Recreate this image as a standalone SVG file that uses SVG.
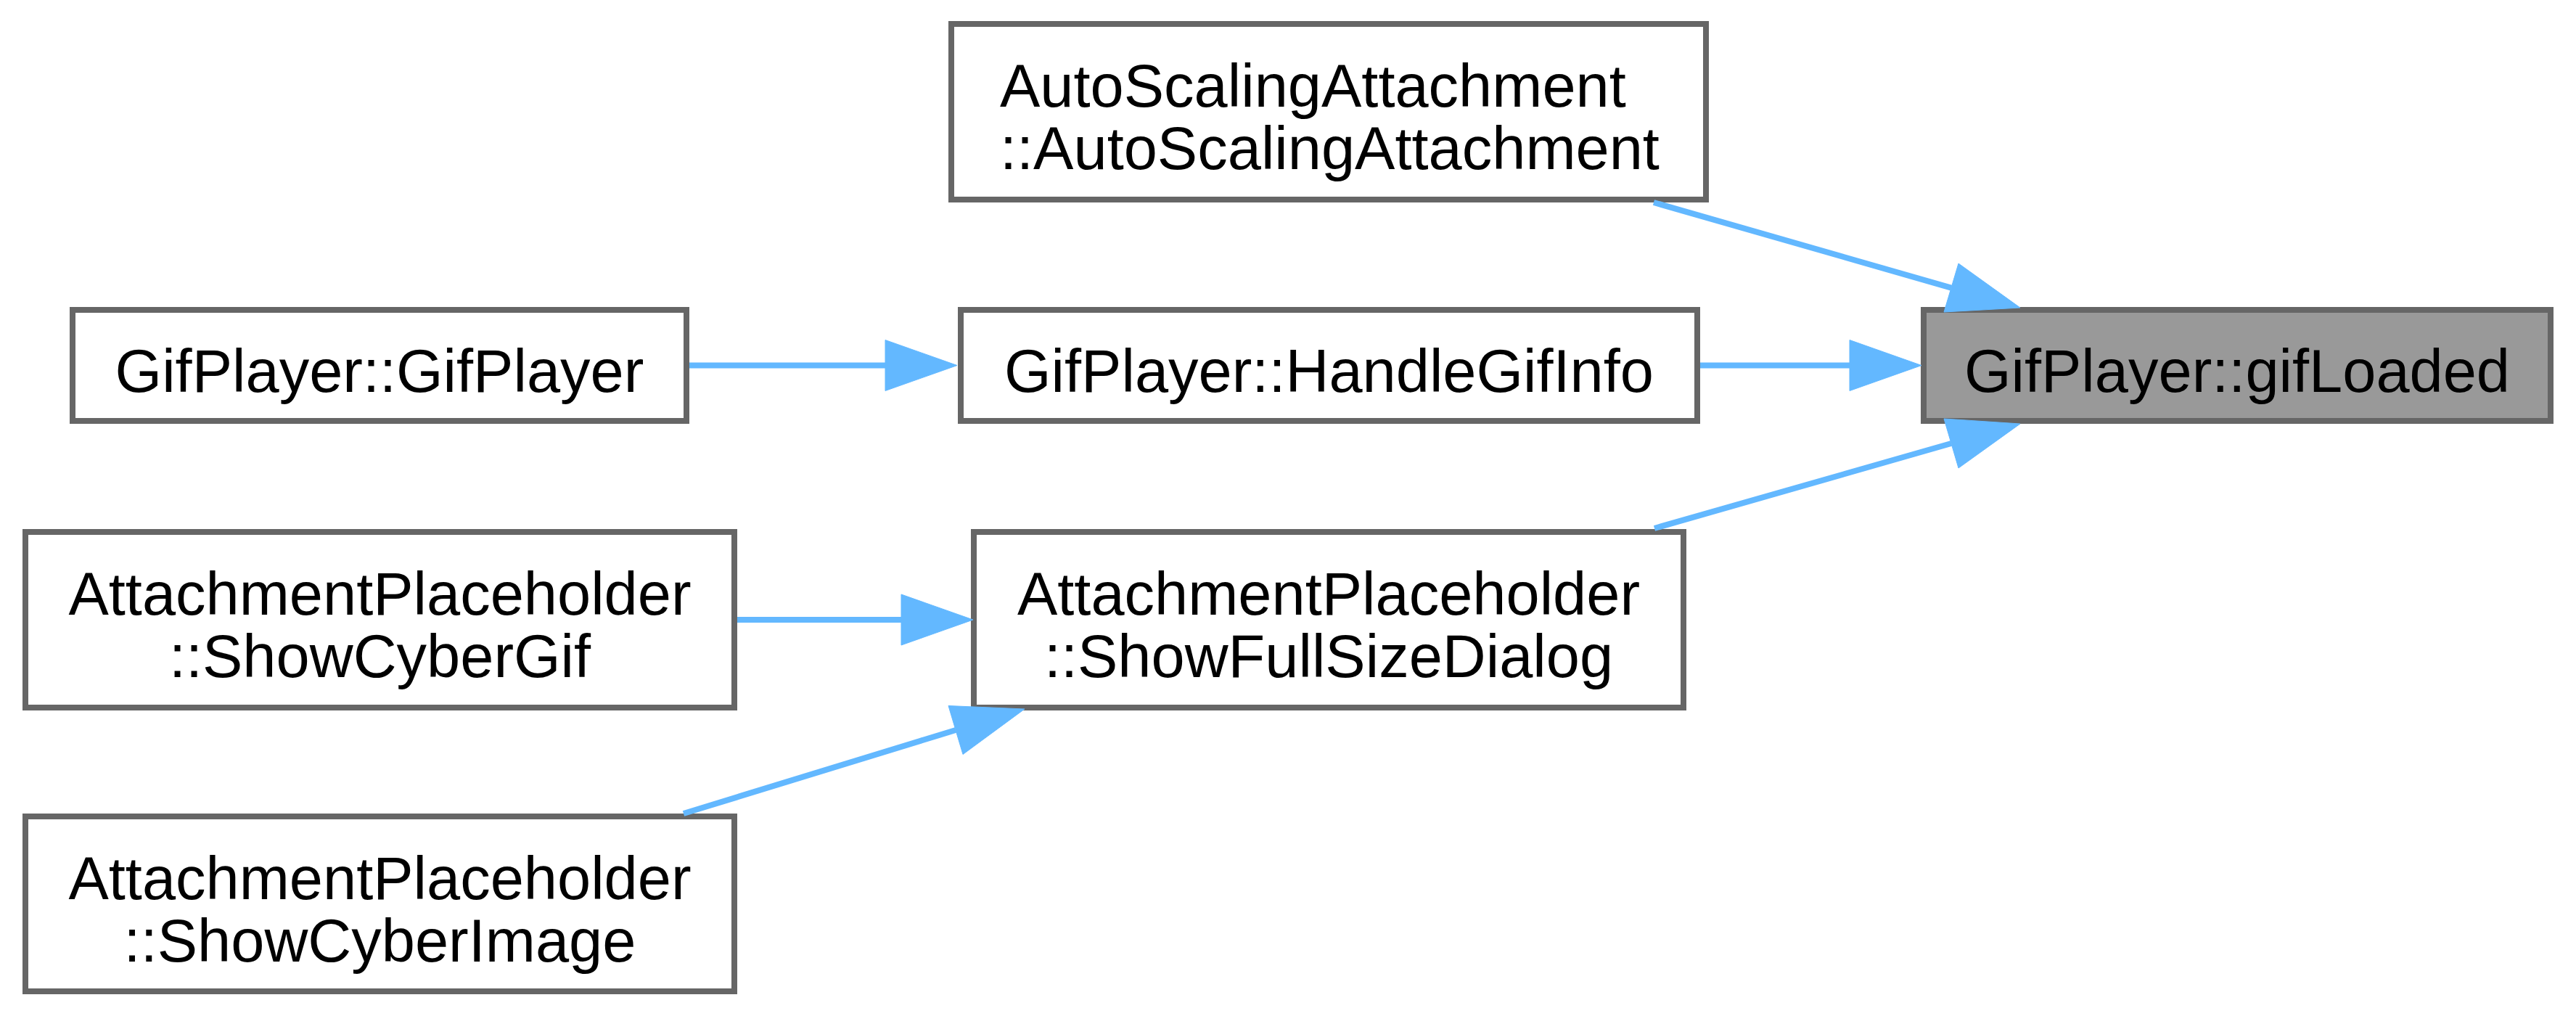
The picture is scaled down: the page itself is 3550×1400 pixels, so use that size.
<svg xmlns="http://www.w3.org/2000/svg" width="3550" height="1400" viewBox="0 0 3550 1400">
<style>
.box{fill:#ffffff;stroke:#666666;stroke-width:8}
.main{fill:#999999;stroke:#666666;stroke-width:8}
.lbl{font-family:"Liberation Sans",Arial,Helvetica,sans-serif;font-size:83px;fill:#000000}
.mid{text-anchor:middle}
.edge{stroke:#63b8ff;stroke-width:8;fill:none}
.head{fill:#63b8ff;stroke:#63b8ff;stroke-width:1}
</style>
<rect width="3550" height="1400" fill="#ffffff"/>
<g id="node-gifLoaded">
<rect class="main" x="2651" y="427" width="864" height="153"/>
<text class="lbl mid" x="3083" y="540">GifPlayer::gifLoaded</text>
</g>
<g id="node-AutoScalingAttachment">
<rect class="box" x="1311" y="33" width="1040" height="242"/>
<text class="lbl" x="1378" y="147">AutoScalingAttachment</text>
<text class="lbl" x="1378" y="233">::AutoScalingAttachment</text>
</g>
<g id="node-HandleGifInfo">
<rect class="box" x="1324" y="427" width="1015" height="153"/>
<text class="lbl mid" x="1831.5" y="540">GifPlayer::HandleGifInfo</text>
</g>
<g id="node-ShowFullSizeDialog">
<rect class="box" x="1342" y="733" width="978" height="242"/>
<text class="lbl mid" x="1831" y="847">AttachmentPlaceholder</text>
<text class="lbl mid" x="1831" y="933">::ShowFullSizeDialog</text>
</g>
<g id="node-GifPlayer">
<rect class="box" x="100" y="427" width="846" height="153"/>
<text class="lbl mid" x="523" y="540">GifPlayer::GifPlayer</text>
</g>
<g id="node-ShowCyberGif">
<rect class="box" x="35" y="733" width="977" height="242"/>
<text class="lbl mid" x="523.5" y="847">AttachmentPlaceholder</text>
<text class="lbl mid" x="523.5" y="933">::ShowCyberGif</text>
</g>
<g id="node-ShowCyberImage">
<rect class="box" x="35" y="1125" width="977" height="241"/>
<text class="lbl mid" x="523.5" y="1239">AttachmentPlaceholder</text>
<text class="lbl mid" x="523.5" y="1325">::ShowCyberImage</text>
</g>
<g id="connectors">
<path class="edge" d="M2279,279 L2689,396.6"/>
<polygon class="head" points="2679,430 2784,424 2699,363"/>
<path class="edge" d="M2343,503.5 L2550,503.5"/>
<polygon class="head" points="2549,468.5 2648,503.5 2549,538.5"/>
<path class="edge" d="M2280,728 L2689,611"/>
<polygon class="head" points="2679,577 2784,584 2699,645"/>
<path class="edge" d="M950,503.5 L1221,503.5"/>
<polygon class="head" points="1220,468.5 1319,503.5 1220,538.5"/>
<path class="edge" d="M1016,854 L1243,854"/>
<polygon class="head" points="1242,819 1341,854 1242,889"/>
<path class="edge" d="M942,1121 L1317,1006"/>
<polygon class="head" points="1307,972.5 1412,977 1327,1039.5"/>
</g>
</svg>
